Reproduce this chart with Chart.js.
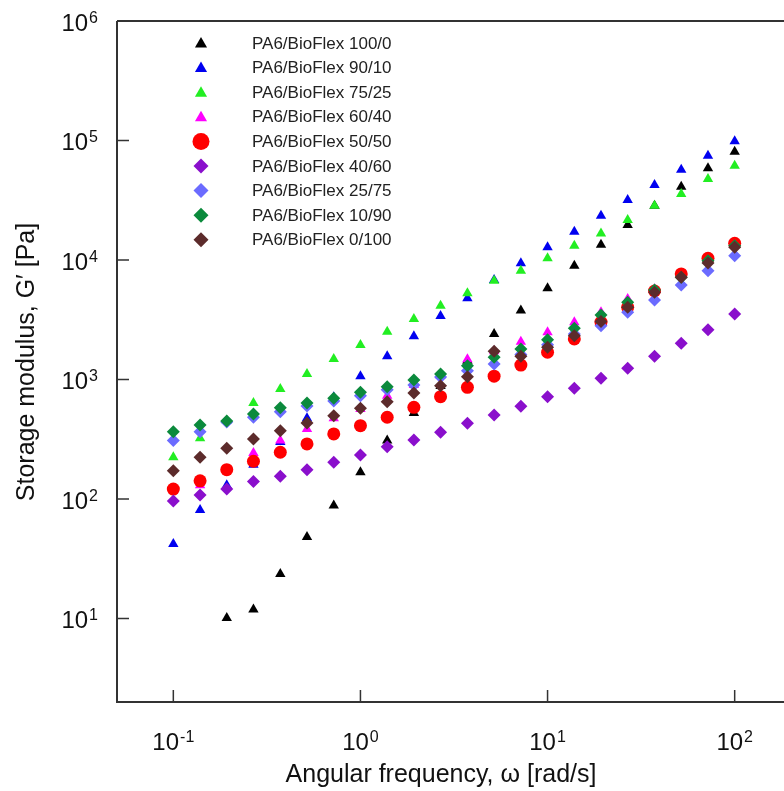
<!DOCTYPE html>
<html>
<head>
<meta charset="utf-8">
<script src="https://cdn.jsdelivr.net/npm/chart.js@4.4.1/dist/chart.umd.min.js"></script>
<style>
  html, body { margin: 0; padding: 0; background: #fff; overflow: hidden; }
  #wrap { width: 784px; height: 791px; overflow: hidden; }
  #chart { display: block; }
</style>
</head>
<body>
<div id="wrap"><canvas id="chart" width="820" height="791"></canvas></div>
<script>
// ------------------------------------------
// data, G' in Pa
// ------------------------------------------
const freq = [0.1, 0.139, 0.193, 0.268, 0.373, 0.518, 0.72, 1, 1.39, 1.93, 2.68,
  3.73, 5.18, 7.2, 10, 13.9, 19.3, 26.8, 37.3, 51.8, 72, 100];

const g100_0 = [null, null, 10.1, 11.9, 23.6, 48, 88, 167, 308, 525, 880,
  1435, 2400, 3770, 5800, 8950, 13400, 19600, 28500, 41000, 58500, 80500];
const g90_10 = [42, 81, 130, 193, 300, 473, 710, 1065, 1563, 2300, 3400,
  4790, 6810, 9380, 12760, 17250, 23500, 31800, 42500, 57000, 74600, 98400];
const g75_25 = [224, 322, 452, 636, 832, 1111, 1485, 1945, 2512, 3206, 4150,
  5260, 6710, 8130, 10330, 13180, 16700, 21600, 28460, 35600, 47600, 61500];
const g60_40 = [120, 130, 176, 243, 308, 385, 473, 565, 731, 900, 1080,
  1480, 1720, 2071, 2483, 3012, 3650, 4720, 5700, 7400, 10000, 13400];
const g50_50 = [121, 142, 176, 207, 246, 289, 350, 411, 483, 585, 718,
  860, 1065, 1321, 1690, 2183, 3020, 4017, 5500, 7640, 10330, 13800];
const g40_60 = [96, 108, 121, 140, 155, 176, 203, 233, 274, 312, 362,
  430, 505, 597, 718, 843, 1023, 1241, 1563, 2010, 2611, 3530];
const g25_75 = [309, 366, 440, 483, 538, 600, 660, 731, 820, 900, 1050,
  1186, 1349, 1620, 1950, 2400, 2820, 3650, 4620, 6180, 8130, 10860];
const g10_90 = [366, 416, 450, 514, 581, 636, 696, 781, 871, 990, 1111,
  1306, 1534, 1799, 2153, 2680, 3466, 4427, 5610, 7160, 9870, 13180];
const g0_100 = [172, 223, 266, 318, 373, 432, 498, 574, 652, 771, 887,
  1055, 1720, 1563, 1858, 2328, 3050, 4017, 5370, 7160, 9440, 12770];

const labels = ["PA6/BioFlex 100/0", "PA6/BioFlex 90/10", "PA6/BioFlex 75/25",
  "PA6/BioFlex 60/40", "PA6/BioFlex 50/50", "PA6/BioFlex 40/60",
  "PA6/BioFlex 25/75", "PA6/BioFlex 10/90", "PA6/BioFlex 0/100"];
const seriesValues = [g100_0, g90_10, g75_25, g60_40, g50_50, g40_60, g25_75, g10_90, g0_100];
const colors = ["#000000", "#0000f0", "#22ee22", "#ff00ff", "#ff0000",
  "#8a0fcc", "#6b6bff", "#0b8a3c", "#5c2b2b"];
const shapes = ["triangle", "triangle", "triangle", "triangle", "circle",
  "rectRot", "rectRot", "rectRot", "rectRot"];

const xTicks = [0.1, 1, 10, 100];
const xExp = ["-1", "0", "1", "2"];
const yTicks = [10, 100, 1000, 10000, 100000, 1000000];
const yExp = ["1", "2", "3", "4", "5", "6"];

const FONT = '"Liberation Sans", Arial, sans-serif';
const AXIS = "#333333";

// ------------------------------------------
// datasets
// ------------------------------------------
function plotRadius(s) {
  if (s === "circle") return 6.5;
  if (s === "rectRot") return 6.5;
  return 6;
}
function legendRadius(s) {
  if (s === "circle") return 8.5;
  if (s === "rectRot") return 7.5;
  return 7;
}

const datasets = labels.map((lab, i) => ({
  label: lab,
  data: freq.map((f, k) => ({ x: f, y: seriesValues[i][k] })),
  pointStyle: shapes[i],
  pointRadius: plotRadius(shapes[i]),
  backgroundColor: colors[i],
  borderColor: colors[i],
  borderWidth: 0,
  showLine: false,
  order: -i // later series drawn on top
}));

// ------------------------------------------
// marker for legend
// ------------------------------------------
function marker(ctx, shape, x, y, r, color) {
  ctx.save();
  ctx.fillStyle = color;
  ctx.beginPath();
  if (shape === "circle") {
    ctx.arc(x, y, r, 0, Math.PI * 2);
  } else if (shape === "triangle") {
    ctx.moveTo(x, y - r);
    ctx.lineTo(x + r * Math.sin(Math.PI / 3), y + r / 2);
    ctx.lineTo(x - r * Math.sin(Math.PI / 3), y + r / 2);
  } else {
    ctx.moveTo(x, y - r);
    ctx.lineTo(x + r, y);
    ctx.lineTo(x, y + r);
    ctx.lineTo(x - r, y);
  }
  ctx.closePath();
  ctx.fill();
  ctx.restore();
}

function powerLabel(ctx, exp, x, y, align) {
  ctx.font = "24px " + FONT;
  const w10 = ctx.measureText("10").width;
  ctx.font = "16px " + FONT;
  const we = ctx.measureText(exp).width;
  const total = w10 + 1 + we;
  let left = align === "right" ? x - total : x - total / 2;
  ctx.fillStyle = "#111";
  ctx.textAlign = "left";
  ctx.textBaseline = "alphabetic";
  ctx.font = "24px " + FONT;
  ctx.fillText("10", left, y + 9);
  ctx.font = "16px " + FONT;
  ctx.fillText(exp, left + w10 + 1, y + 1);
}

// ------------------------------------------
// frame, ticks, labels, legend
// ------------------------------------------
const decor = {
  id: "decor",
  afterDraw(chart) {
    const ctx = chart.ctx;
    const a = chart.chartArea;
    const xs = chart.scales.x;
    const ys = chart.scales.y;
    ctx.save();

    // axes + top frame
    ctx.strokeStyle = AXIS;
    ctx.lineWidth = 2;
    ctx.beginPath();
    ctx.moveTo(a.left, a.top);
    ctx.lineTo(a.left, a.bottom);
    ctx.lineTo(a.right, a.bottom);
    ctx.moveTo(a.left, a.top);
    ctx.lineTo(a.right, a.top);
    ctx.stroke();

    // inward tick marks
    ctx.lineWidth = 1.5;
    ctx.beginPath();
    xTicks.forEach(v => {
      const px = xs.getPixelForValue(v);
      ctx.moveTo(px, a.bottom);
      ctx.lineTo(px, a.bottom - 12);
    });
    yTicks.forEach(v => {
      const py = ys.getPixelForValue(v);
      ctx.moveTo(a.left, py);
      ctx.lineTo(a.left + 12, py);
    });
    ctx.stroke();

    // tick labels
    xTicks.forEach((v, i) => powerLabel(ctx, xExp[i], xs.getPixelForValue(v), 741, "center"));
    yTicks.forEach((v, i) => powerLabel(ctx, yExp[i], 98, ys.getPixelForValue(v) + 1, "right"));

    // axis titles
    ctx.fillStyle = "#111";
    ctx.font = "25px " + FONT;
    ctx.textAlign = "center";
    ctx.textBaseline = "middle";
    ctx.fillText("Angular frequency, \u03c9 [rad/s]", 441, 775);
    ctx.save();
    ctx.translate(27, 362);
    ctx.rotate(-Math.PI / 2);
    ctx.fillText("Storage modulus, G\u2032 [Pa]", 0, 0);
    ctx.restore();

    // legend
    ctx.font = "17px " + FONT;
    ctx.textAlign = "left";
    ctx.textBaseline = "middle";
    labels.forEach((lab, i) => {
      const y = 43 + i * 24.6;
      const r = legendRadius(shapes[i]);
      marker(ctx, shapes[i], 201, shapes[i] === "triangle" ? y + 1 : y, r, colors[i]);
      ctx.fillStyle = "#222";
      ctx.fillText(lab, 252, y + 1);
    });

    ctx.restore();
  }
};

new Chart(document.getElementById("chart"), {
  type: "scatter",
  data: { datasets: datasets },
  options: {
    responsive: false,
    animation: false,
    layout: { padding: { left: 117, top: 21, right: 29, bottom: 89 } },
    plugins: { legend: { display: false }, tooltip: { enabled: false } },
    scales: {
      x: {
        type: "logarithmic",
        display: false,
        min: 0.05,
        max: 200
      },
      y: {
        type: "logarithmic",
        display: false,
        min: 2,
        max: 1000000
      }
    }
  },
  plugins: [decor]
});
</script>
</body>
</html>
